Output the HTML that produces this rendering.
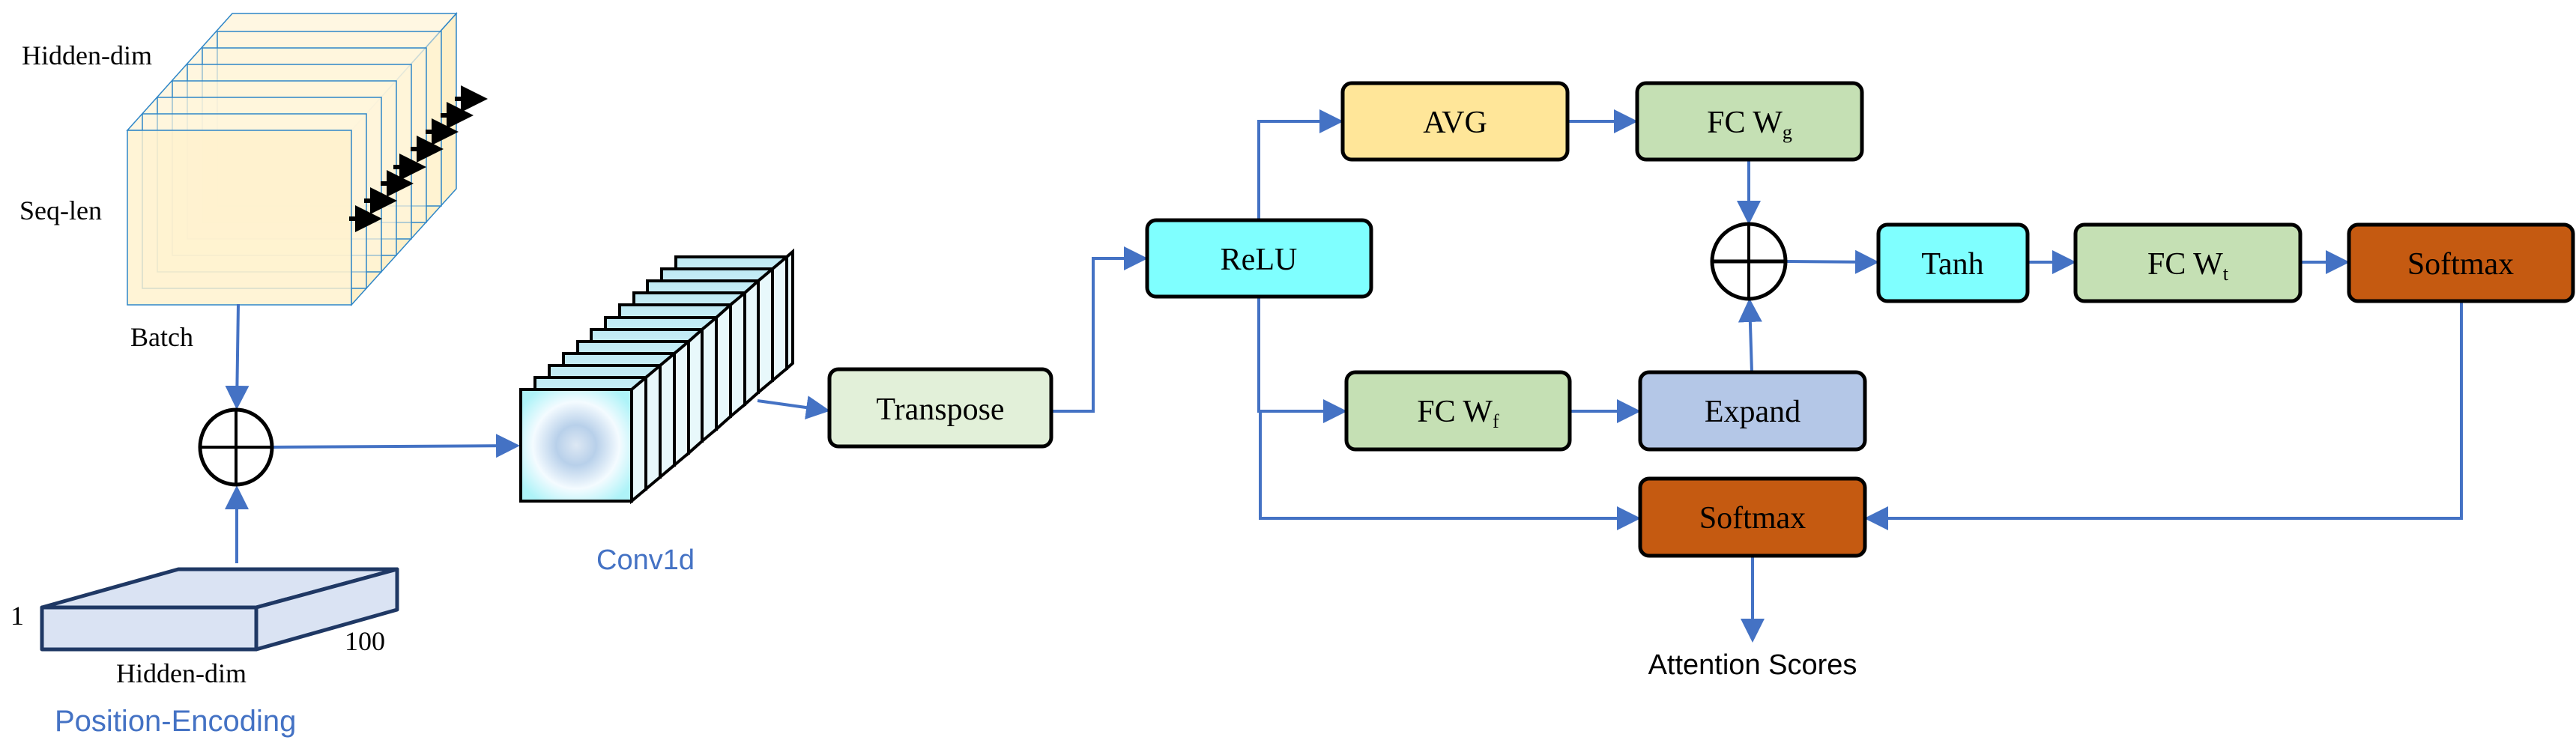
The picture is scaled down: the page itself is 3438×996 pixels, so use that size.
<!DOCTYPE html>
<html><head><meta charset="utf-8"><style>
html,body{margin:0;padding:0;background:#fff;}
svg{display:block}
.t{font-family:"Liberation Serif",serif;fill:#000}
.s{font-family:"Liberation Sans",sans-serif}
</style></head><body>
<svg width="3438" height="996" viewBox="0 0 3438 996" xmlns="http://www.w3.org/2000/svg">
<defs>
<marker id="a" markerWidth="8" markerHeight="8" refX="7" refY="4" orient="auto" markerUnits="strokeWidth">
<path d="M0,0 L8,4 L0,8 z" fill="#4472c4"/></marker>
<marker id="k" markerWidth="6" markerHeight="6" refX="5" refY="3" orient="auto" markerUnits="strokeWidth">
<path d="M0,0 L6,3 L0,6 z" fill="#000"/></marker>
<radialGradient id="g" cx="50%" cy="50%" r="60%">
<stop offset="0" stop-color="#dde8f4"/><stop offset="0.3" stop-color="#b8d0ea"/><stop offset="0.65" stop-color="#f4fbff"/><stop offset="1" stop-color="#aef3f8"/></radialGradient>
<linearGradient id="sg" x1="0" y1="0" x2="0" y2="1"><stop offset="0" stop-color="#bfeaf4"/><stop offset="1" stop-color="#ffffff"/></linearGradient>
</defs>

<!-- feature cube -->
<g stroke="#2e86c8" stroke-width="1.5">
<polygon points="469,174 609,18 609,252 469,407" fill="#fde9b0" fill-opacity="0.7"/>
<polygon points="170,174 310,18 609,18 469,174" fill="#fff4d6" fill-opacity="0.7"/>
<rect x="290" y="42" width="299" height="233" fill="#fff6dc" fill-opacity="0.5"/>
<rect x="270" y="64" width="299" height="233" fill="#fff6dc" fill-opacity="0.5"/>
<rect x="250" y="86" width="299" height="233" fill="#fff6dc" fill-opacity="0.5"/>
<rect x="230" y="108" width="299" height="233" fill="#fff6dc" fill-opacity="0.5"/>
<rect x="210" y="130" width="299" height="233" fill="#fff6dc" fill-opacity="0.5"/>
<rect x="190" y="152" width="299" height="233" fill="#fff6dc" fill-opacity="0.5"/>
<rect x="170" y="174" width="299" height="233" fill="#fff1cc" fill-opacity="0.8"/>
</g>
<g stroke="#000" stroke-width="6" marker-end="url(#k)">
<line x1="607" y1="132" x2="645" y2="132"/>
<line x1="588" y1="154" x2="626" y2="154"/>
<line x1="568" y1="176" x2="606" y2="176"/>
<line x1="548" y1="199" x2="586" y2="199"/>
<line x1="525" y1="223" x2="563" y2="223"/>
<line x1="508" y1="245" x2="546" y2="245"/>
<line x1="486" y1="268" x2="524" y2="268"/>
<line x1="466" y1="292" x2="504" y2="292"/>
</g>
<text class="t" x="29" y="86" font-size="36">Hidden-dim</text>
<text class="t" x="26" y="293" font-size="36">Seq-len</text>
<text class="t" x="174" y="462" font-size="36">Batch</text>

<!-- plus circle left -->
<line x1="318" y1="406" x2="316" y2="543" stroke="#4472c4" stroke-width="4" marker-end="url(#a)"/>
<line x1="316" y1="752" x2="316" y2="652" stroke="#4472c4" stroke-width="4" marker-end="url(#a)"/>
<line x1="365" y1="597" x2="690" y2="595" stroke="#4472c4" stroke-width="4" marker-end="url(#a)"/>
<ellipse cx="315" cy="597" rx="48" ry="50" fill="#fff" stroke="#000" stroke-width="5"/>
<line x1="267" y1="597" x2="363" y2="597" stroke="#000" stroke-width="4"/>
<line x1="315" y1="547" x2="315" y2="647" stroke="#000" stroke-width="4"/>

<!-- position encoding slab -->
<g stroke="#1f3864" stroke-width="5" fill="#dae3f3" stroke-linejoin="round">
<polygon points="56,811 238,760 530,760 342,811"/>
<polygon points="342,811 530,760 530,814 342,867"/>
<rect x="56" y="811" width="286" height="56"/>
</g>
<text class="t" x="14" y="834" font-size="36">1</text>
<text class="t" x="460" y="868" font-size="36">100</text>
<text class="t" x="155" y="911" font-size="36">Hidden-dim</text>
<text class="s" x="73" y="976" font-size="40" fill="#4472c4">Position-Encoding</text>

<!-- conv1d stack -->
<g stroke="#000" stroke-width="4">
<rect x="902" y="343" width="148" height="149" fill="url(#sg)"/><polygon points="1050,343 1058,336 1058,485 1050,492" fill="#e8f8fb"/>
<rect x="883" y="359" width="148" height="149" fill="url(#sg)"/><polygon points="1031,359 1050,343 1050,492 1031,508" fill="#e8f8fb"/>
<rect x="864" y="375" width="148" height="149" fill="url(#sg)"/><polygon points="1012,375 1031,359 1031,508 1012,524" fill="#e8f8fb"/>
<rect x="846" y="391" width="148" height="149" fill="url(#sg)"/><polygon points="994,391 1012,375 1012,524 994,540" fill="#e8f8fb"/>
<rect x="827" y="407" width="148" height="149" fill="url(#sg)"/><polygon points="975,407 994,391 994,540 975,556" fill="#e8f8fb"/>
<rect x="808" y="424" width="148" height="149" fill="url(#sg)"/><polygon points="956,424 975,407 975,556 956,573" fill="#e8f8fb"/>
<rect x="789" y="440" width="148" height="149" fill="url(#sg)"/><polygon points="937,440 956,424 956,573 937,589" fill="#e8f8fb"/>
<rect x="771" y="456" width="148" height="149" fill="url(#sg)"/><polygon points="919,456 937,440 937,589 919,605" fill="#e8f8fb"/>
<rect x="752" y="472" width="148" height="149" fill="url(#sg)"/><polygon points="900,472 919,456 919,605 900,621" fill="#e8f8fb"/>
<rect x="733" y="488" width="148" height="149" fill="url(#sg)"/><polygon points="881,488 900,472 900,621 881,637" fill="#e8f8fb"/>
<rect x="714" y="504" width="148" height="149" fill="url(#sg)"/><polygon points="862,504 881,488 881,637 862,653" fill="#e8f8fb"/>
<polygon points="843,520 862,504 862,653 843,669" fill="#e8f8fb"/>
<rect x="695" y="520" width="148" height="149" fill="url(#g)"/>
</g>
<text class="s" x="796" y="760" font-size="38" fill="#4472c4">Conv1d</text>
<line x1="1011" y1="535" x2="1104" y2="548" stroke="#4472c4" stroke-width="4" marker-end="url(#a)"/>

<!-- connectors right -->
<g stroke="#4472c4" stroke-width="4" fill="none">
<polyline points="1403,549 1459,549 1459,345 1528,345" marker-end="url(#a)"/>
<polyline points="1680,294 1680,162 1789,162" marker-end="url(#a)"/>
<line x1="2092" y1="162" x2="2182" y2="162" marker-end="url(#a)"/>
<line x1="2334" y1="213" x2="2334" y2="296" marker-end="url(#a)"/>
<polyline points="1680,396 1680,549 1794,549" marker-end="url(#a)"/>
<polyline points="1682,549 1682,692 2186,692" marker-end="url(#a)"/>
<line x1="2095" y1="549" x2="2186" y2="549" marker-end="url(#a)"/>
<line x1="2338" y1="497" x2="2335" y2="402" marker-end="url(#a)"/>
<line x1="2383" y1="349" x2="2504" y2="350" marker-end="url(#a)"/>
<line x1="2706" y1="350" x2="2767" y2="350" marker-end="url(#a)"/>
<line x1="3070" y1="350" x2="3132" y2="350" marker-end="url(#a)"/>
<polyline points="3285,402 3285,692 2492,692" marker-end="url(#a)"/>
<line x1="2339" y1="742" x2="2339" y2="854" marker-end="url(#a)"/>
</g>

<!-- boxes -->
<g stroke="#000" stroke-width="5">
<rect x="1107" y="493" width="296" height="103" rx="12" fill="#e2f0d9"/>
<rect x="1531" y="294" width="299" height="102" rx="12" fill="#7fffff"/>
<rect x="1792" y="111" width="300" height="102" rx="12" fill="#ffe699"/>
<rect x="2185" y="111" width="300" height="102" rx="12" fill="#c5e0b4"/>
<rect x="2507" y="300" width="199" height="102" rx="12" fill="#7fffff"/>
<rect x="2770" y="300" width="300" height="102" rx="12" fill="#c5e0b4"/>
<rect x="3135" y="300" width="299" height="102" rx="12" fill="#c55a11"/>
<rect x="1797" y="497" width="298" height="103" rx="12" fill="#c5e0b4"/>
<rect x="2189" y="497" width="300" height="103" rx="12" fill="#b4c7e7"/>
<rect x="2189" y="639" width="300" height="103" rx="12" fill="#c55a11"/>
</g>
<ellipse cx="2334" cy="349" rx="49" ry="50" fill="#fff" stroke="#000" stroke-width="5"/>
<line x1="2285" y1="349" x2="2383" y2="349" stroke="#000" stroke-width="5"/>
<line x1="2334" y1="299" x2="2334" y2="399" stroke="#000" stroke-width="4"/>

<g class="t" font-size="42" text-anchor="middle">
<text x="1255" y="560">Transpose</text>
<text x="1680" y="360">ReLU</text>
<text x="1942" y="177">AVG</text>
<text x="2335" y="177">FC  W<tspan font-size="26" dy="8">g</tspan></text>
<text x="2606" y="366">Tanh</text>
<text x="2920" y="366">FC  W<tspan font-size="26" dy="8">t</tspan></text>
<text x="3284" y="366">Softmax</text>
<text x="1946" y="563">FC  W<tspan font-size="26" dy="8">f</tspan></text>
<text x="2339" y="563">Expand</text>
<text x="2339" y="705">Softmax</text>
</g>
<text class="s" x="2339" y="900" font-size="38" text-anchor="middle">Attention Scores</text>
</svg>
</body></html>
